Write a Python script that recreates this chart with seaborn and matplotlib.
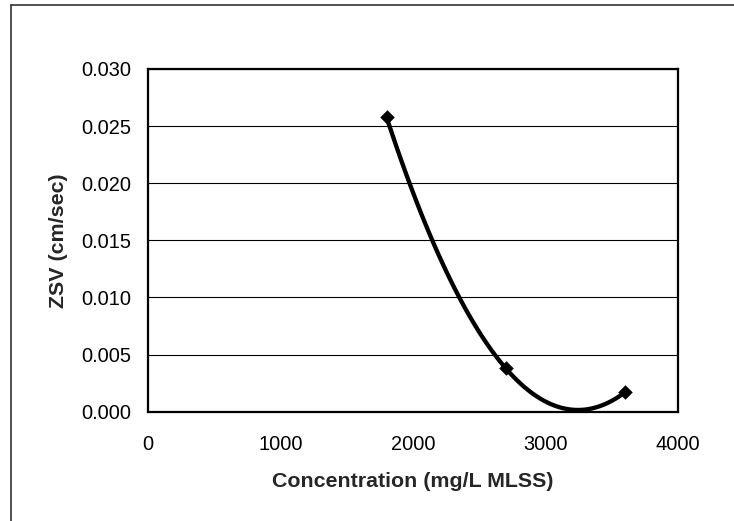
import numpy as np
import pandas as pd
import seaborn as sns
import matplotlib
matplotlib.use("Agg")
import matplotlib.pyplot as plt
from matplotlib.lines import Line2D

# Settling test results
concentration = [1800, 2700, 3600]          # mg/L MLSS
zsv = [0.0258, 0.0038, 0.0017]              # cm/sec
x_ticks = [0, 1000, 2000, 3000, 4000]
y_ticks = [0.000, 0.005, 0.010, 0.015, 0.020, 0.025, 0.030]

df = pd.DataFrame({"conc": concentration, "zsv": zsv})

sns.set_style("white")
plt.rcParams["font.family"] = ["Liberation Sans", "DejaVu Sans"]

fig = plt.figure(figsize=(7.34, 5.21), dpi=100)
ax = fig.add_axes([148 / 734, 1 - 411.7 / 521, 530 / 734, 342.7 / 521])

# horizontal gridlines
for yv in y_ticks:
    ax.axhline(yv, color="black", lw=0.8, zorder=0)

# second-order fit through the points, with diamond markers
sns.regplot(data=df, x="conc", y="zsv", order=2, ci=None, truncate=True,
            marker="D", ax=ax,
            scatter_kws=dict(s=55, color="black", alpha=1, linewidths=0,
                             zorder=4),
            line_kws=dict(color="black", lw=3.1, zorder=3,
                          solid_capstyle="round"))

ax.set_xlim(0, 4000)
ax.set_ylim(0, 0.030)
ax.set_xticks(x_ticks)
ax.set_yticks(y_ticks)
ax.set_xticklabels([str(v) for v in x_ticks])
ax.set_yticklabels([f"{v:.3f}" for v in y_ticks])

for s in ax.spines.values():
    s.set_visible(True)
    s.set_color("black")
    s.set_linewidth(1.6)

ax.tick_params(axis="both", which="major", direction="out", length=4,
               width=0.8, color="black", labelsize=14.4, labelcolor="black")
ax.tick_params(axis="x", pad=12.5)
ax.tick_params(axis="y", pad=8)

ax.set_xlabel("Concentration (mg/L MLSS)", fontsize=15.4, fontweight="bold")
ax.set_ylabel("ZSV (cm/sec)", fontsize=15.4, fontweight="bold")
ax.xaxis.set_label_coords(0.5, -0.175)
ax.yaxis.set_label_coords(-0.15, 0.5)

# chart area frame (left and top edges visible)
fx = 10.7 / 734
fy = 1 - 5.3 / 521
fig.add_artist(Line2D([fx, fx], [0, fy], transform=fig.transFigure,
                      color="#333333", lw=1.2))
fig.add_artist(Line2D([fx, 1], [fy, fy], transform=fig.transFigure,
                      color="#333333", lw=1.2))

fig.savefig("out.png", dpi=100)
